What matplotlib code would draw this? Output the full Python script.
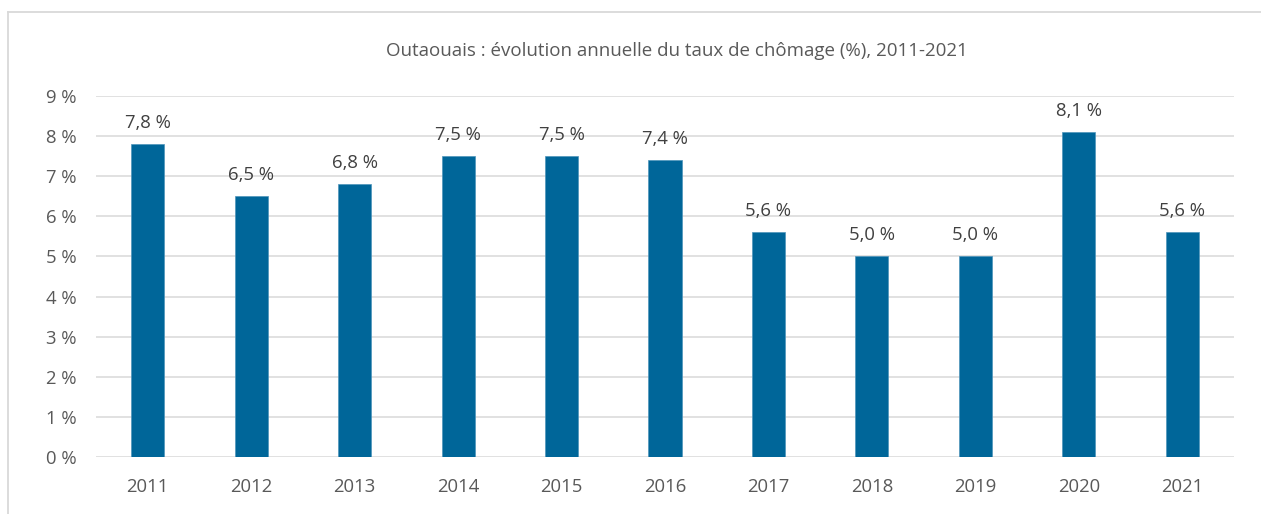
import matplotlib
matplotlib.use("Agg")
import matplotlib.pyplot as plt
from matplotlib.lines import Line2D

years = ["2011", "2012", "2013", "2014", "2015", "2016",
         "2017", "2018", "2019", "2020", "2021"]
rates = [7.8, 6.5, 6.8, 7.5, 7.5, 7.4, 5.6, 5.0, 5.0, 8.1, 5.6]
y_ticks = [0, 1, 2, 3, 4, 5, 6, 7, 8, 9]

TEXT = "#595959"
LABEL = "#404040"
BAR = "#006699"
GRID = "#d9d9d9"

plt.rcParams["font.family"] = ["Open Sans", "DejaVu Sans"]

fig = plt.figure(figsize=(12.61, 5.14), dpi=100)
ax = fig.add_axes([0.0761, 0.1109, 0.9025, 0.7023])

x = list(range(len(years)))
ax.bar(x, rates, width=0.32, color=BAR, edgecolor="#4d94bb",
       linewidth=0.5, zorder=3)

for xi, v in zip(x, rates):
    ax.annotate(f"{v:.1f} %".replace(".", ","), (xi, v),
                xytext=(0, 9), textcoords="offset points",
                ha="center", va="bottom", color=LABEL, fontsize=13.3)

ax.set_xlim(-0.5, len(years) - 0.5)
ax.set_ylim(0, 9)
ax.set_yticks(y_ticks)
ax.set_yticklabels([f"{t} %" for t in y_ticks])
ax.set_xticks(x)
ax.set_xticklabels(years)
ax.tick_params(axis="both", length=0, colors=TEXT, labelsize=13.3)
ax.tick_params(axis="y", pad=14)
ax.tick_params(axis="x", pad=15)
ax.grid(axis="y", color=GRID, linewidth=1.1, zorder=0)
for spine in ax.spines.values():
    spine.set_visible(False)

fig.text(0.537, 0.901, "Outaouais : évolution annuelle du taux de chômage (%), 2011-2021",
         ha="center", va="center", color=TEXT, fontsize=13.5)

# border of the chart frame (top and left edges visible)
fig.add_artist(Line2D([0.0063, 1.0], [0.977, 0.977], color=GRID,
                      linewidth=1.3, transform=fig.transFigure))
fig.add_artist(Line2D([0.0063, 0.0063], [0.0, 0.977], color=GRID,
                      linewidth=1.3, transform=fig.transFigure))

fig.savefig("out.png", dpi=100, facecolor="white")
